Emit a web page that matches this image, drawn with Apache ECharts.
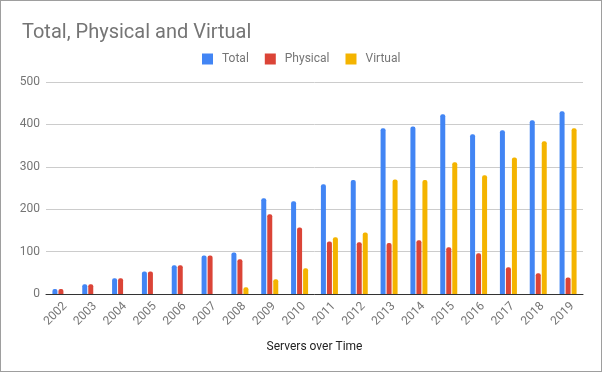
<!DOCTYPE html>
<html>
<head>
<meta charset="utf-8">
<script src="https://cdn.jsdelivr.net/npm/echarts@6/dist/echarts.min.js"></script>
<style>
  html, body { margin: 0; padding: 0; background: #fff; }
  #chart { width: 602px; height: 372px; border: 1px solid #9e9e9e; box-sizing: border-box; }
</style>
</head>
<body>
<div id="chart"></div>
<script>
  // data
  const years = ['2002', '2003', '2004', '2005', '2006', '2007', '2008', '2009', '2010', '2011',
    '2012', '2013', '2014', '2015', '2016', '2017', '2018', '2019'];
  const total = [12, 23, 37, 53, 68, 91, 98, 226, 219, 259, 269, 391, 395, 424, 377, 386, 410, 431];
  const physical = [12, 23, 37, 53, 68, 91, 82, 188, 157, 124, 122, 120, 127, 110, 96, 63, 49, 39];
  const virtual = [null, null, null, null, null, null, 16, 35, 61, 134, 145, 270, 269, 311, 280, 322, 360, 391];

  const myChart = echarts.init(document.getElementById('chart'));

  function bar(name, data, color) {
    return {
      type: 'bar',
      name: name,
      data: data,
      barWidth: 5,
      barGap: '20%',
      itemStyle: { color: color, borderRadius: [2, 2, 0, 0] }
    };
  }

  const option = {
    animation: false,
    textStyle: { fontFamily: 'Roboto' },
    title: {
      text: 'Total, Physical and Virtual',
      left: 16,
      top: 17,
      textStyle: { fontSize: 20, fontWeight: 'normal', color: '#757575' }
    },
    legend: {
      top: 47,
      left: 196,
      itemWidth: 11,
      itemHeight: 11,
      itemGap: 16,
      icon: 'rect',
      textStyle: { fontSize: 12, color: '#757575', padding: [0, 0, 0, 4] }
    },
    grid: { left: 45, right: 18, top: 81, bottom: 77 },
    xAxis: {
      type: 'category',
      data: years,
      name: 'Servers over Time',
      nameLocation: 'middle',
      nameGap: 47,
      nameTextStyle: { fontSize: 12, color: '#222' },
      axisTick: { show: false },
      axisLine: { lineStyle: { color: '#333', width: 1 } },
      axisLabel: {
        rotate: 45, fontSize: 12, color: '#757575', margin: 6, interval: 0,
        align: 'right', verticalAlign: 'top'
      }
    },
    yAxis: {
      type: 'value',
      min: 0,
      max: 500,
      interval: 100,
      axisLine: { show: false },
      axisTick: { show: false },
      axisLabel: { fontSize: 12, color: '#757575', margin: 6 },
      splitLine: { lineStyle: { color: '#cccccc' } }
    },
    series: [
      bar('Total', total, '#4285f4'),
      bar('Physical', physical, '#db4437'),
      bar('Virtual', virtual, '#f4b400')
    ]
  };

  myChart.setOption(option);
</script>
</body>
</html>
